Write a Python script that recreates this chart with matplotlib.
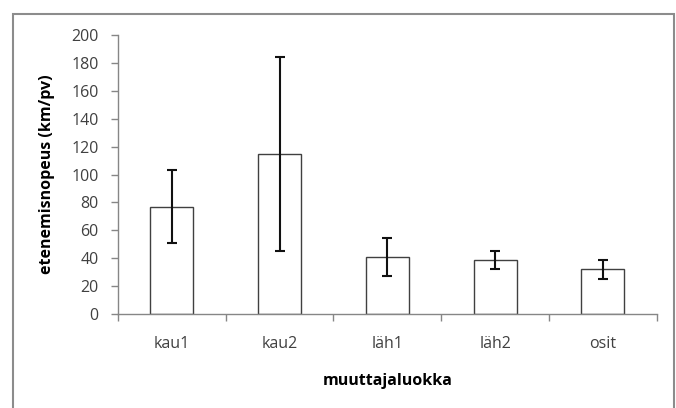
import matplotlib.pyplot as plt
from matplotlib.patches import Rectangle

# data
categories = ['kau1', 'kau2', 'läh1', 'läh2', 'osit']
means = [77, 115, 41, 38.5, 32]
errors = [26, 69.5, 13.7, 6.4, 6.9]

plt.rcParams['font.family'] = ['Open Sans', 'DejaVu Sans']

fig = plt.figure(figsize=(6.76, 4.08), dpi=100)
ax = fig.add_axes([0.1746, 0.2304, 0.7968, 0.6838])

# outer chart border (bottom is cut off)
fig.patches.append(Rectangle((13 / 676, -0.05), 661 / 676, 1.05 - 14 / 408,
                             transform=fig.transFigure, fill=False,
                             edgecolor='#8c8c8c', linewidth=1.5))

x = list(range(len(categories)))
ax.bar(x, means, width=0.4, color='white', edgecolor='#404040', linewidth=1)
ax.errorbar(x, means, yerr=errors, fmt='none', ecolor='#111111',
            elinewidth=1.5, capsize=3.3, capthick=1.5)

ax.set_xlim(-0.5, len(categories) - 0.5)
ax.set_ylim(0, 200)
ax.set_yticks(range(0, 201, 20))
ax.set_xticks([i - 0.5 for i in range(len(categories) + 1)], minor=False)
ax.set_xticklabels([])
ax.set_xticks(x, minor=True)
ax.set_xticklabels(categories, minor=True)
ax.tick_params(axis='x', which='major', length=5, color='#868686', width=1)
ax.tick_params(axis='x', which='minor', length=0, pad=16, labelsize=11.5, labelcolor='#404040')
ax.tick_params(axis='y', length=5, color='#868686', width=1, labelsize=11.5,
               labelcolor='#404040', pad=9)

for s in ['top', 'right']:
    ax.spines[s].set_visible(False)
for s in ['left', 'bottom']:
    ax.spines[s].set_color('#868686')
    ax.spines[s].set_linewidth(1)

ax.set_ylabel('etenemisnopeus (km/pv)', fontsize=11.5, fontweight='bold', labelpad=12)
ax.set_xlabel('muuttajaluokka', fontsize=11.5, fontweight='bold', labelpad=15)

fig.savefig('out.png', dpi=100)
